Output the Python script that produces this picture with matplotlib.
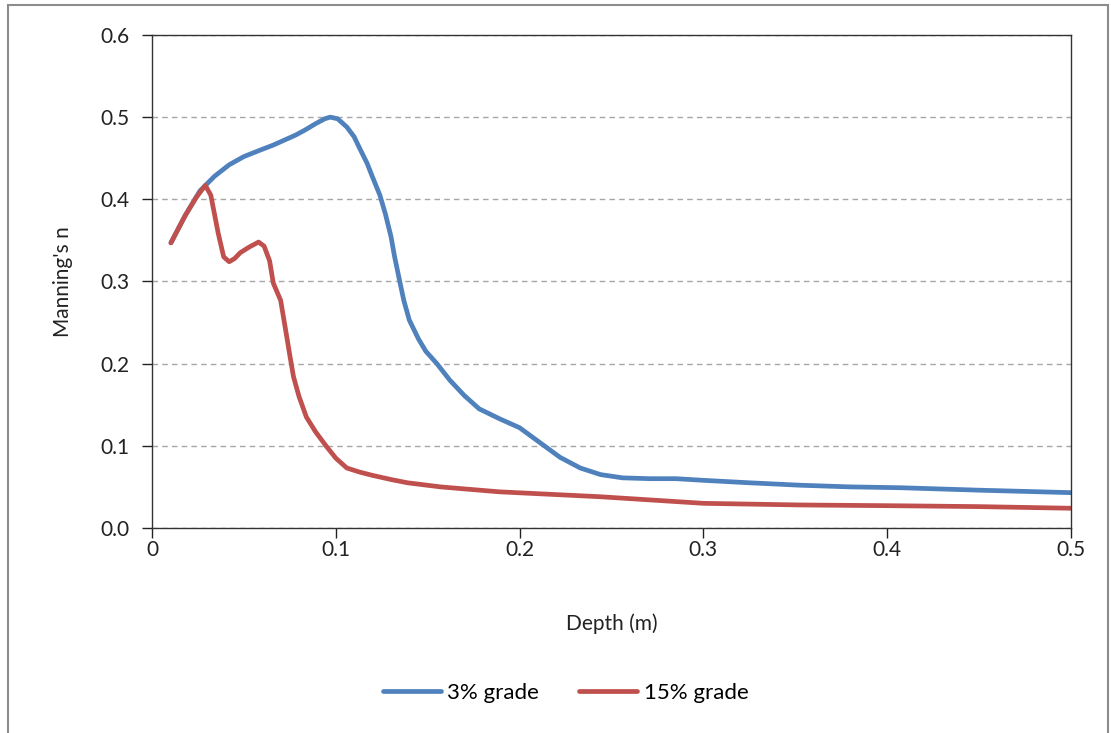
import numpy as np
import matplotlib.pyplot as plt
import matplotlib
from matplotlib.patches import Rectangle

matplotlib.rcParams['font.family'] = ['Lato', 'DejaVu Sans']

# 3% grade
depth_3 = [0.0103, 0.018, 0.026, 0.034, 0.042, 0.050, 0.059, 0.066, 0.072, 0.078, 0.083, 0.089,
           0.094, 0.097, 0.101, 0.106, 0.110, 0.113, 0.117, 0.120, 0.124, 0.127, 0.130, 0.132,
           0.135, 0.137, 0.140, 0.145, 0.149, 0.155, 0.162, 0.170, 0.178, 0.189, 0.200, 0.211,
           0.222, 0.233, 0.244, 0.256, 0.271, 0.285, 0.300, 0.325, 0.353, 0.380, 0.407, 0.450,
           0.500]
n_3 = [0.347, 0.380, 0.410, 0.428, 0.442, 0.452, 0.460, 0.466, 0.472, 0.478, 0.484, 0.492,
       0.498, 0.500, 0.498, 0.488, 0.476, 0.462, 0.444, 0.427, 0.405, 0.382, 0.355, 0.330,
       0.298, 0.277, 0.253, 0.230, 0.215, 0.200, 0.180, 0.161, 0.145, 0.133, 0.122, 0.104,
       0.086, 0.073, 0.065, 0.061, 0.060, 0.060, 0.058, 0.055, 0.052, 0.050, 0.049, 0.046,
       0.043]

# 15% grade
depth_15 = [0.0103, 0.018, 0.024, 0.029, 0.032, 0.036, 0.039, 0.042, 0.045, 0.048, 0.053, 0.058,
            0.061, 0.064, 0.066, 0.070, 0.073, 0.075, 0.077, 0.080, 0.084, 0.089, 0.095, 0.100,
            0.106, 0.113, 0.120, 0.130, 0.139, 0.157, 0.189, 0.244, 0.300, 0.353, 0.407, 0.450, 0.500]
n_15 = [0.347, 0.380, 0.402, 0.417, 0.405, 0.359, 0.330, 0.324, 0.328, 0.335, 0.342, 0.348,
        0.343, 0.325, 0.298, 0.277, 0.237, 0.210, 0.184, 0.160, 0.135, 0.117, 0.099, 0.085,
        0.073, 0.068, 0.064, 0.059, 0.055, 0.050, 0.044, 0.038, 0.030, 0.028, 0.027, 0.026, 0.024]

fig = plt.figure(figsize=(11.11, 7.33), dpi=100)
ax = fig.add_axes([0.1368, 0.2797, 0.8272, 0.6726])

ax.plot(depth_3, n_3, color='#4F81BD', lw=3.4, label='3% grade',
        solid_capstyle='round', solid_joinstyle='round')
ax.plot(depth_15, n_15, color='#C0504D', lw=3.4, label='15% grade',
        solid_capstyle='round', solid_joinstyle='round')

ax.set_xlim(0, 0.5)
ax.set_ylim(0, 0.6)
ax.set_xticks([0, 0.1, 0.2, 0.3, 0.4, 0.5])
ax.set_xticklabels(['0', '0.1', '0.2', '0.3', '0.4', '0.5'])
ax.set_yticks([0, 0.1, 0.2, 0.3, 0.4, 0.5, 0.6])
ax.set_yticklabels(['0.0', '0.1', '0.2', '0.3', '0.4', '0.5', '0.6'])
ax.tick_params(direction='out', length=7, width=1, labelsize=15, colors='#222222', pad=2)
ax.tick_params(axis='y', pad=9)
for s in ax.spines.values():
    s.set_color('#333333')
    s.set_linewidth(1)
ax.grid(axis='y', linestyle=(0, (4, 3)), color='#a6a6a6', lw=1)
ax.set_axisbelow(True)

ax.set_xlabel('Depth (m)', fontsize=15, labelpad=38, color='#222222')
ax.set_ylabel("Manning's n", fontsize=15, labelpad=20, color='#222222')

fig.legend(loc='center', bbox_to_anchor=(0.509, 1 - 693 / 733), ncol=2, frameon=False,
           fontsize=16, handlelength=2.6, handletextpad=0.3, columnspacing=1.8)

fig.patches.append(Rectangle((8 / 1111, -0.05), 1100 / 1111, 1.05 - 5 / 733,
                             transform=fig.transFigure, fill=False, edgecolor='#8c8c8c', lw=1.5))

fig.savefig('out.png', dpi=100)
